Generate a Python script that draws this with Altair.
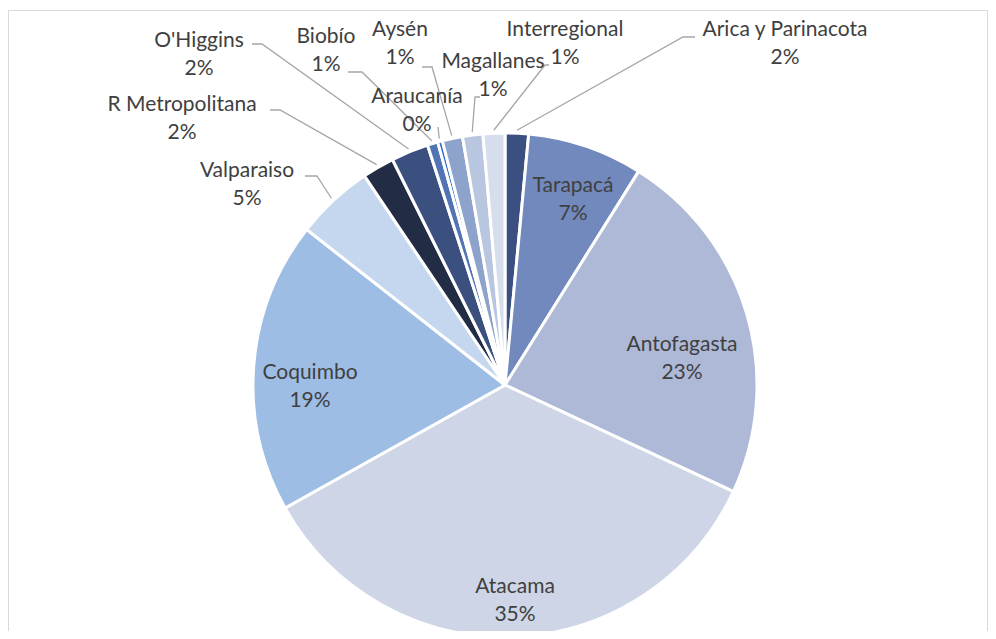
import math
import altair as alt
import pandas as pd

# ---- data (clockwise from 12 o'clock) ----
regions = ["Arica y Parinacota", "Tarapacá", "Antofagasta", "Atacama", "Coquimbo",
           "Valparaiso", "R Metropolitana", "O'Higgins", "Biobío", "Araucanía",
           "Aysén", "Magallanes", "Interregional"]
values = [1.5, 7.4, 23.05, 34.93, 18.7, 5.0, 2.05, 2.4, 0.67, 0.3, 1.3, 1.3, 1.4]
colors = ["#3b5080", "#7189bd", "#adb9d6", "#cdd5e6", "#9dbde4", "#c5d7ef",
          "#222d45", "#3c5080", "#5374b4", "#2e6cc4", "#8ea3cc", "#b9c6e0", "#d6dded"]

total = sum(values)
pct_labels = [f"{int(v / total * 100 + 0.5)}%" for v in values]

# ---- layout (view pixels) ----
CX, CY, R = 497, 377, 252
# first-line centre of label, elbow point and end point of leader (None = inside label)
label_layout = {
    "Arica y Parinacota": ((777, 22), (675, 29), (687, 29)),
    "Tarapacá": ((565, 178), None, None),
    "Antofagasta": ((674, 337), None, None),
    "Atacama": ((507, 579), None, None),
    "Coquimbo": ((302, 365), None, None),
    "Valparaiso": ((239, 163), (309, 168), (297, 168)),
    "R Metropolitana": ((174, 97), (272, 102), (262, 102)),
    "O'Higgins": ((191, 33), (254, 36), (244, 36)),
    "Biobío": ((318, 29), (354, 64), (340, 64)),
    "Araucanía": ((409, 89), (430, 119), (430, 119)),
    "Aysén": ((392, 22), (424, 59), (414, 59)),
    "Magallanes": ((485, 54), (467, 89), (472, 89)),
    "Interregional": ((557, 22), (537, 57), (541, 57)),
}

rows, lab_rows, line_rows = [], [], []
cum = 0.0
for i, (name, v, c, p) in enumerate(zip(regions, values, colors, pct_labels)):
    mid = (cum + v / 2) / total * 2 * math.pi
    cum += v
    rows.append({"region": name, "value": v, "idx": i})
    (lx, ly), elbow, end = label_layout[name]
    lab_rows.append({"text": f"{name}\n{p}", "x": lx, "y": ly})
    if elbow is not None:
        sx = CX + (R + 3) * math.sin(mid)
        sy = CY - (R + 3) * math.cos(mid)
        for k, (px, py) in enumerate([(sx, sy), elbow, end]):
            line_rows.append({"region": name, "k": k, "x": px, "y": py})

df = pd.DataFrame(rows)
df_lab = pd.DataFrame(lab_rows)
df_line = pd.DataFrame(line_rows)

pie = alt.Chart(df).mark_arc(outerRadius=R, stroke="white", strokeWidth=3).encode(
    theta=alt.Theta("value:Q", stack=True),
    order=alt.Order("idx:Q"),
    color=alt.Color("region:N", scale=alt.Scale(domain=regions, range=colors), legend=None),
    x=alt.value(CX),
    y=alt.value(CY),
)

leaders = alt.Chart(df_line).mark_line(color="#a6a6a6", strokeWidth=1.3).encode(
    x=alt.X("x:Q", scale=None, axis=None),
    y=alt.Y("y:Q", scale=None, axis=None),
    detail="region:N",
    order="k:Q",
)

labels = alt.Chart(df_lab).mark_text(
    font="Lato", fontSize=21, color="#404040", lineBreak="\n", lineHeight=28,
    align="center", baseline="middle",
).encode(
    x=alt.X("x:Q", scale=None, axis=None),
    y=alt.Y("y:Q", scale=None, axis=None),
    text="text:N",
)

border = alt.Chart(pd.DataFrame({"a": [0]})).mark_rect(
    fill=None, stroke="#d9d9d9", strokeWidth=1
).encode(x=alt.value(0.5), y=alt.value(2.5), x2=alt.value(979.5), y2=alt.value(700))

chart = alt.layer(border, pie, leaders, labels).properties(
    width=980, height=623, padding=0, autosize=alt.AutoSizeParams(type="none")
).configure_view(stroke=None)

chart.save("out.html", embed_options={"renderer": "svg", "actions": False})
